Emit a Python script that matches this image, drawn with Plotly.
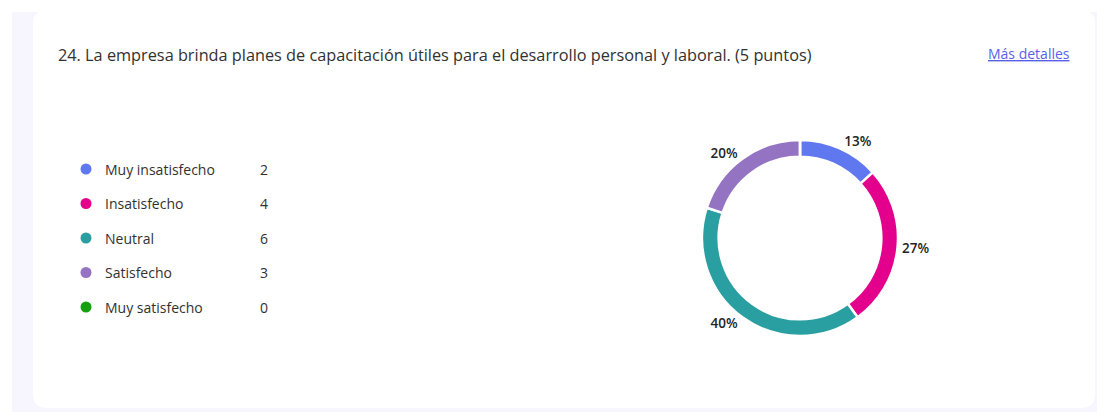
import plotly.graph_objects as go

# Data
categories = ["Muy insatisfecho", "Insatisfecho", "Neutral", "Satisfecho", "Muy satisfecho"]
counts = [2, 4, 6, 3, 0]
colors = ["#6078ef", "#e3008c", "#2a9fa1", "#9473c3", "#13a10e"]

title_text = "24. La empresa brinda planes de capacitación útiles para el desarrollo personal y laboral. (5 puntos)"
link_text = "Más detalles"

# the page adds an 8px body margin, so the figure is drawn 8px smaller and shifted
OFF = 8
W, H = 1105 - OFF, 412 - OFF
FONT = "Open Sans, Noto Sans, Arial, sans-serif"
INK = "#323130"


def px(x):
    return x - OFF


def py(y):
    # reference pixel (from top) -> paper fraction
    return 1 - (y - OFF) / H


total = sum(counts)
pct_text = [f"{round(100 * v / total)}%" if v > 0 else "" for v in counts]

fig = go.Figure()

# Donut
cx, cy, half = 800, 238, 98
fig.add_trace(go.Pie(
    labels=categories,
    values=counts,
    text=pct_text,
    textinfo="text",
    textposition="outside",
    textfont=dict(family=FONT, size=13.5, color="#252423", weight=600),
    hole=0.83,
    sort=False,
    direction="clockwise",
    rotation=0,
    marker=dict(colors=colors, line=dict(color="white", width=2.5)),
    showlegend=False,
    hoverinfo="label+value+percent",
    domain=dict(x=[(px(cx) - half) / W, (px(cx) + half) / W],
                y=[py(cy + half), py(cy - half)]),
))

# Legend rows: row index on a reversed y axis
row_top, row_step = 169 - OFF, 34.5
rows = list(range(len(categories)))
dot_x, label_x, count_x = px(86), px(103), px(258)

fig.add_trace(go.Scatter(
    x=[dot_x] * len(categories),
    y=rows,
    mode="markers",
    marker=dict(size=11, color=colors),
    showlegend=False,
    hoverinfo="skip",
    xaxis="x", yaxis="y",
))

for i, (cat, v) in enumerate(zip(categories, counts)):
    fig.add_annotation(x=label_x, y=i, xref="x", yref="y", text=cat,
                       showarrow=False, xanchor="left", yanchor="middle",
                       font=dict(family=FONT, size=14, color=INK))
    fig.add_annotation(x=count_x, y=i, xref="x", yref="y", text=str(v),
                       showarrow=False, xanchor="left", yanchor="middle",
                       font=dict(family=FONT, size=14, color=INK))

# Title and link
fig.add_annotation(x=px(56) / W, y=py(55), xref="paper", yref="paper",
                   text=title_text, showarrow=False, xanchor="left", yanchor="middle",
                   font=dict(family=FONT, size=16.3, color=INK))
fig.add_annotation(x=px(1072) / W, y=py(54), xref="paper", yref="paper",
                   text=f"<u>{link_text}</u>", showarrow=False, xanchor="right", yanchor="middle",
                   font=dict(family=FONT, size=14, color="#5b5fe8"))

# Background panels (pixel x on x axis, paper y)
r = 14
x0, x1 = px(33), px(1095)
yt, yb = py(10), py(408)
ry = r / H
card_path = (f"M {x0 + r},{yt} L {x1 - r},{yt} Q {x1},{yt} {x1},{yt - ry} "
             f"L {x1},{yb + ry} Q {x1},{yb} {x1 - r},{yb} L {x0 + r},{yb} "
             f"Q {x0},{yb} {x0},{yb + ry} L {x0},{yt - ry} Q {x0},{yt} {x0 + r},{yt} Z")
fig.update_layout(shapes=[
    dict(type="rect", xref="x", yref="paper", x0=px(12), x1=W, y0=0, y1=py(12),
         fillcolor="#f7f5fd", line=dict(width=0), layer="below"),
    dict(type="path", xref="x", yref="paper", path=card_path,
         fillcolor="white", line=dict(width=0), layer="below"),
])

fig.update_layout(
    width=W, height=H,
    margin=dict(l=0, r=0, t=0, b=0),
    paper_bgcolor="white",
    plot_bgcolor="rgba(0,0,0,0)",
    xaxis=dict(range=[0, W], domain=[0, 1], visible=False, fixedrange=True),
    yaxis=dict(range=[(H - row_top) / row_step, -row_top / row_step],
               domain=[0, 1], visible=False, fixedrange=True),
)

fig.write_html("out.html")
